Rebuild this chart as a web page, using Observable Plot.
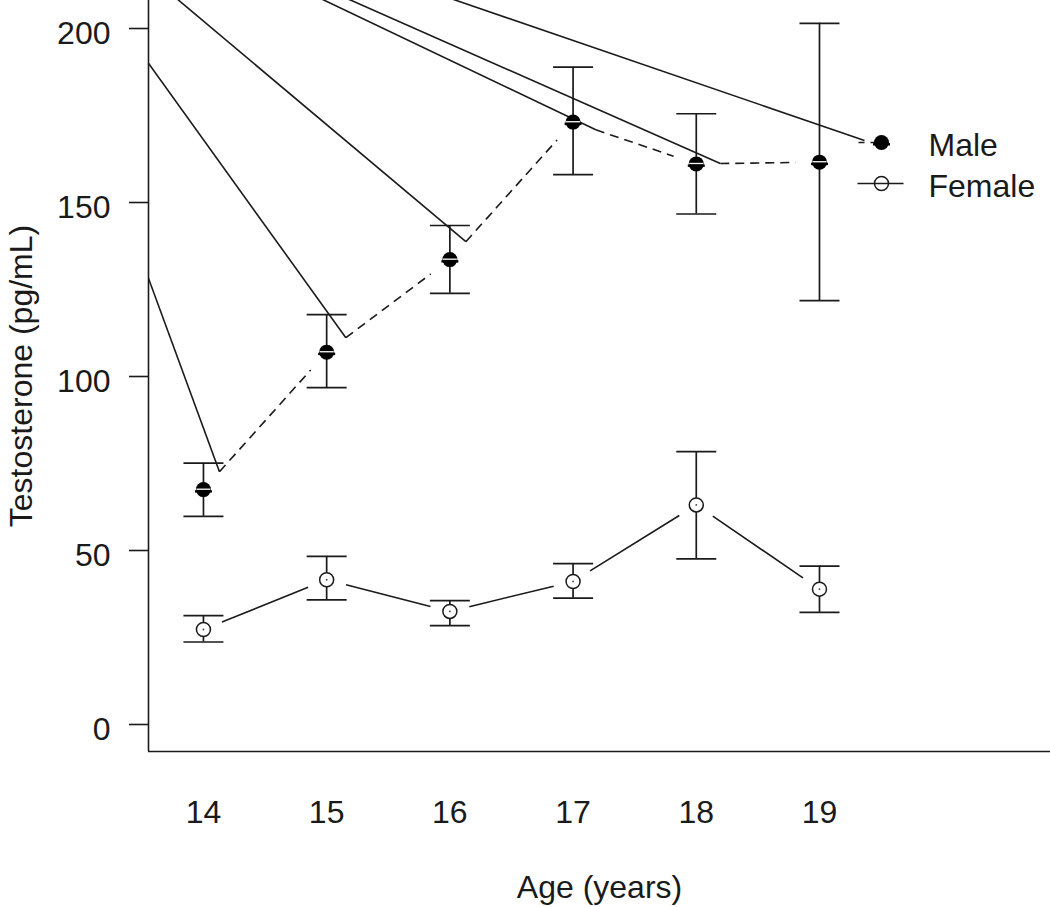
<!DOCTYPE html>
<html>
<head>
<meta charset="utf-8">
<script src="https://cdn.jsdelivr.net/npm/d3@7"></script>
<script src="https://cdn.jsdelivr.net/npm/@observablehq/plot@0.6"></script>
<style>
  html, body { margin: 0; padding: 0; background: #fff; }
  #chart svg { display: block; }
</style>
</head>
<body>
<div id="chart"></div>
<script>
// ---------- data ----------
const ages = [14, 15, 16, 17, 18, 19];
const ageTicks = [14, 15, 16, 17, 18, 19];
const maleMean = [67.5, 107.0, 133.6, 173.1, 161.1, 161.6];
const maleLow  = [59.8, 96.8, 123.9, 158.0, 146.7, 121.8];
const maleHigh = [75.1, 117.8, 143.4, 188.9, 175.5, 201.5];
const femaleMean = [27.3, 41.6, 32.5, 41.1, 63.1, 38.9];
const femaleLow  = [23.7, 35.8, 28.4, 36.3, 47.6, 32.2];
const femaleHigh = [31.3, 48.3, 35.6, 46.2, 78.4, 45.5];
const yTicks = [0, 50, 100, 150, 200];
const seriesNames = ["Male", "Female"];
const yLabel = "Testosterone (pg/mL)";
const xLabel = "Age (years)";
// common off-canvas start point of the stray solid lines (age, pg/mL)
const strayOrigin = [12.247, 254.3];

// ---------- layout ----------
const W = 1050, H = 907, ML = 148, MR = 0, MT = 0, MB = 156;
const xDomain = [13.554, 20.875];
const yDomain = [-7.76, 208.05];
const kx = (W - ML - MR) / (xDomain[1] - xDomain[0]);
const ky = (H - MT - MB) / (yDomain[1] - yDomain[0]);
const invX = px => xDomain[0] + (px - ML) / kx;
const invY = py => yDomain[1] - (py - MT) / ky;
const ink = "#1a1a1a";
const font = "'Liberation Sans', Arial, sans-serif";
const FS = 32;
const tickLen = 19;

// legend layout (pixels)
const legKeyX = 881, legTextX = 928, legRowY = [142, 183];

// ---------- derived tables ----------
const male = ages.map((a, i) => ({age: a, mean: maleMean[i], lo: maleLow[i], hi: maleHigh[i]}));
const female = ages.map((a, i) => ({age: a, mean: femaleMean[i], lo: femaleLow[i], hi: femaleHigh[i]}));

// R type="b": segments between points leave a gap around each symbol
function gapSegments(rows, gap) {
  const out = [];
  for (let i = 0; i < rows.length - 1; i++) {
    const a = rows[i], b = rows[i + 1];
    const dx = b.age - a.age, dy = b.mean - a.mean;
    const len = Math.hypot(dx * kx, dy * ky);
    const t = gap / len;
    out.push({x1: a.age + dx * t, y1: a.mean + dy * t, x2: b.age - dx * t, y2: b.mean - dy * t});
  }
  return out;
}
const maleSeg = gapSegments(male, 24);
const femaleSeg = gapSegments(female, 20);

// stray solid lines: from the common origin to each male segment start and to the legend key
const strayEnds = maleSeg.map(s => ({x: s.x1, y: s.y1}))
  .concat([{x: invX(legKeyX - 17), y: invY(legRowY[0] - 2)}]);
const stray = strayEnds.map(e => ({x1: strayOrigin[0], y1: strayOrigin[1], x2: e.x, y2: e.y}));

// custom symbols (pixel space)
const capSymbol = {draw(ctx) { ctx.moveTo(-20, 0); ctx.lineTo(20, 0); }};
const stripeSymbol = {draw(ctx) { ctx.moveTo(-7, 0); ctx.lineTo(7, 0); }};
const barSymbol = {draw(ctx) { ctx.moveTo(-8.5, 0); ctx.lineTo(8.5, 0); }};

// legend tables
const legMale = [{name: seriesNames[0], x: invX(legKeyX), y: invY(legRowY[0]), tx: invX(legTextX), ty: invY(legRowY[0] + 13),
  x1: invX(legKeyX - 23), x2: invX(legKeyX + 23)}];
const legFemale = [{name: seriesNames[1], x: invX(legKeyX), y: invY(legRowY[1]), tx: invX(legTextX), ty: invY(legRowY[1] + 13),
  x1: invX(legKeyX - 24), x2: invX(legKeyX + 22)}];

const chart = Plot.plot({
  width: W,
  height: H,
  marginLeft: ML,
  marginRight: MR,
  marginTop: MT,
  marginBottom: MB,
  style: {fontFamily: font, fontSize: FS + "px", color: ink, background: "#fff"},
  x: {domain: xDomain, axis: null},
  y: {domain: yDomain, axis: null},
  marks: [
    // axes
    Plot.ruleY(yTicks, {y: d => d, x1: invX(ML - tickLen), x2: xDomain[0], stroke: ink, strokeWidth: 1.6}),
    Plot.axisY({ticks: yTicks, tickSize: 0, tickPadding: 2 * tickLen, label: null, fontSize: FS, dy: 5, fill: ink}),
    Plot.axisX({ticks: ageTicks, tickSize: 0, tickPadding: 49, label: null, fontSize: FS, tickFormat: d => String(d), fill: ink}),
    Plot.ruleX([xDomain[0]], {stroke: ink, strokeWidth: 1.6}),
    Plot.ruleY([yDomain[0]], {stroke: ink, strokeWidth: 1.6}),

    // stray solid lines
    Plot.link(stray, {x1: "x1", y1: "y1", x2: "x2", y2: "y2", stroke: ink, strokeWidth: 1.6, clip: true}),

    // connecting lines
    Plot.link(maleSeg, {x1: "x1", y1: "y1", x2: "x2", y2: "y2", stroke: ink, strokeWidth: 1.6, strokeDasharray: "9,6"}),
    Plot.link(femaleSeg, {x1: "x1", y1: "y1", x2: "x2", y2: "y2", stroke: ink, strokeWidth: 1.6}),

    // error bars
    Plot.ruleX(male, {x: "age", y1: "lo", y2: "hi", stroke: ink, strokeWidth: 1.7}),
    Plot.dot(male, {x: "age", y: "lo", symbol: capSymbol, r: 5, fill: "none", stroke: ink, strokeWidth: 1.7}),
    Plot.dot(male, {x: "age", y: "hi", symbol: capSymbol, r: 5, fill: "none", stroke: ink, strokeWidth: 1.7}),
    Plot.ruleX(female, {x: "age", y1: "lo", y2: "hi", stroke: ink, strokeWidth: 1.7}),
    Plot.dot(female, {x: "age", y: "lo", symbol: capSymbol, r: 5, fill: "none", stroke: ink, strokeWidth: 1.7}),
    Plot.dot(female, {x: "age", y: "hi", symbol: capSymbol, r: 5, fill: "none", stroke: ink, strokeWidth: 1.7}),

    // male symbols
    Plot.dot(male, {x: "age", y: "mean", r: 7.5, fill: "#000", stroke: "none"}),
    Plot.dot(male, {x: "age", y: "mean", symbol: barSymbol, r: 5, fill: "none", stroke: "#000", strokeWidth: 2.4, dy: 1.8}),
    Plot.dot(male, {x: "age", y: "mean", symbol: stripeSymbol, r: 5, fill: "none", stroke: "#fff", strokeWidth: 1.3, dy: -0.4}),

    // female symbols
    Plot.dot(female, {x: "age", y: "mean", r: 7, fill: "#fff", stroke: ink, strokeWidth: 1.5}),
    Plot.dot(female, {x: "age", y: "mean", r: 0.9, fill: "#444", stroke: "none"}),

    // legend
    Plot.link(legMale, {x1: "x1", y1: "y", x2: "x2", y2: "y", stroke: ink, strokeWidth: 1.6, strokeDasharray: "6,6,6,200"}),
    Plot.dot(legMale, {x: "x", y: "y", r: 7.5, fill: "#000", stroke: "none"}),
    Plot.dot(legMale, {x: "x", y: "y", symbol: barSymbol, r: 5, fill: "none", stroke: "#000", strokeWidth: 2.4, dy: 1.8}),
    Plot.text(legMale, {x: "tx", y: "ty", text: "name", textAnchor: "start", lineAnchor: "bottom", fontSize: FS, fill: ink}),
    Plot.link(legFemale, {x1: "x1", y1: "y", x2: "x2", y2: "y", stroke: ink, strokeWidth: 1.6}),
    Plot.dot(legFemale, {x: "x", y: "y", r: 7, fill: "none", stroke: ink, strokeWidth: 1.5}),
    Plot.text(legFemale, {x: "tx", y: "ty", text: "name", textAnchor: "start", lineAnchor: "bottom", fontSize: FS, fill: ink}),

    // axis titles
    Plot.text([yLabel], {frameAnchor: "left", rotate: -90, dx: 31 - ML, lineAnchor: "bottom", textAnchor: "middle", fontSize: FS, fill: ink}),
    Plot.text([xLabel], {frameAnchor: "bottom", dy: 897 - (H - MB), lineAnchor: "bottom", textAnchor: "middle", fontSize: FS, fill: ink})
  ]
});
document.getElementById("chart").appendChild(chart);
</script>
</body>
</html>
